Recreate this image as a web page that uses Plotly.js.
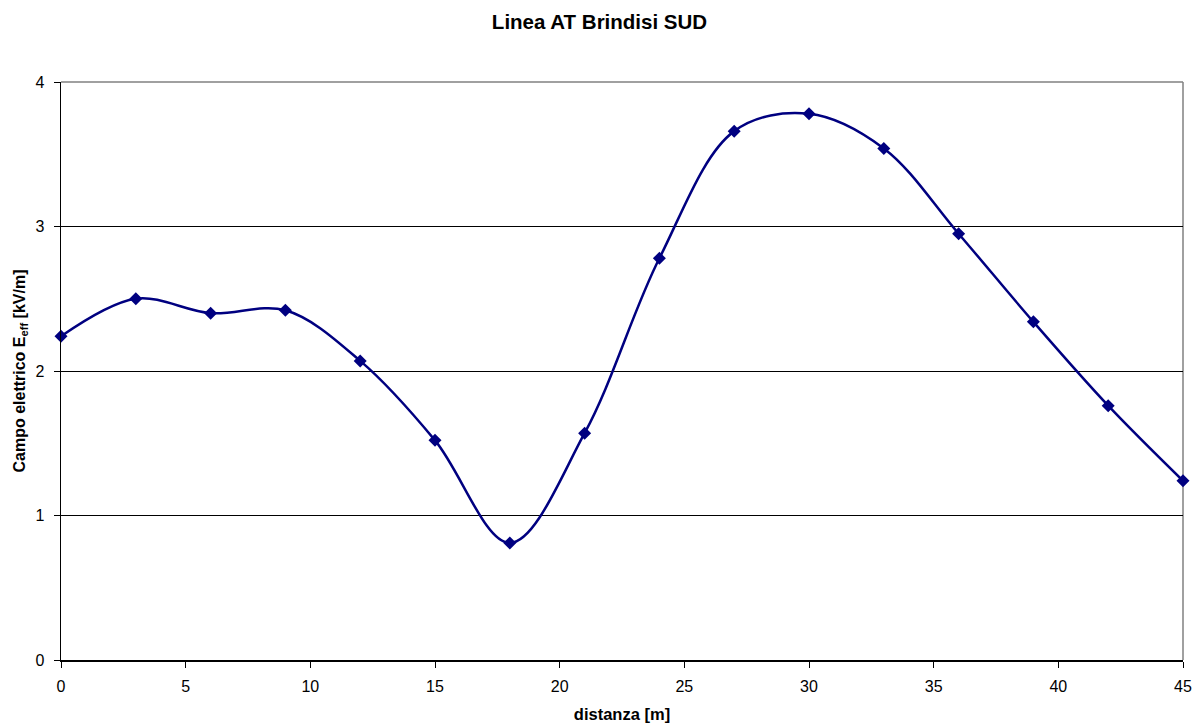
<!DOCTYPE html>
<html>
<head>
<meta charset="utf-8">
<script src="https://cdn.plot.ly/plotly-3.0.1.min.js"></script>
<style>html,body{margin:0;padding:0;background:#fff;}#chart{width:1199px;height:724px;}</style>
</head>
<body>
<div id="chart"></div>
<script>
const distanza = [0, 3, 6, 9, 12, 15, 18, 21, 24, 27, 30, 33, 36, 39, 42, 45];
const campo = [2.24, 2.50, 2.40, 2.42, 2.07, 1.52, 0.81, 1.57, 2.78, 3.66, 3.78, 3.54, 2.95, 2.34, 1.76, 1.24];
const xTicks = [0, 5, 10, 15, 20, 25, 30, 35, 40, 45];
const yTicks = [0, 1, 2, 3, 4];

const trace = {
  x: distanza, y: campo, type: 'scatter', mode: 'lines+markers',
  line: {color: '#000080', width: 2.5, shape: 'spline', smoothing: 1},
  marker: {symbol: 'diamond', size: 10, color: '#000080'},
  cliponaxis: false, hoverinfo: 'x+y'
};

const layout = {
  width: 1199, height: 724,
  margin: {l: 61, r: 16, t: 82, b: 64},
  paper_bgcolor: '#fff', plot_bgcolor: '#fff',
  showlegend: false,
  font: {family: 'Liberation Sans, Arial, sans-serif', size: 16, color: '#000'},
  title: {text: '<b>Linea AT Brindisi SUD</b>', x: 0.5, xanchor: 'center', y: 0.9696, yanchor: 'middle', font: {size: 20.5}},
  xaxis: {
    range: [0, 45], tickvals: xTicks, ticktext: xTicks.map(String),
    showgrid: false, zeroline: false, showline: true, linecolor: '#000', linewidth: 1.5,
    ticks: 'outside', ticklen: 6, tickcolor: '#000', tickwidth: 1, ticklabelstandoff: 5,
    title: {text: '<b>distanza [m]</b>', standoff: 14, font: {size: 16.5}}
  },
  yaxis: {
    range: [0, 4], tickvals: yTicks, ticktext: yTicks.map(String),
    showgrid: true, gridcolor: '#000', gridwidth: 1, zeroline: false,
    showline: true, linecolor: '#000', linewidth: 1.5,
    ticks: 'outside', ticklen: 6, tickcolor: '#000', tickwidth: 1, ticklabelstandoff: 6,
    title: {text: '<b>Campo elettrico E<sub>eff</sub> [kV/m]</b>', standoff: 6, font: {size: 16}}
  },
  shapes: [
    {type: 'line', xref: 'paper', yref: 'paper', x0: 0, x1: 1, y0: 1, y1: 1, line: {color: '#808080', width: 1.5}, layer: 'below'},
    {type: 'line', xref: 'paper', yref: 'paper', x0: 1, x1: 1, y0: 0, y1: 1, line: {color: '#808080', width: 1.5}, layer: 'below'}
  ]
};

Plotly.newPlot('chart', [trace], layout, {displayModeBar: false, staticPlot: true});
</script>
</body>
</html>
